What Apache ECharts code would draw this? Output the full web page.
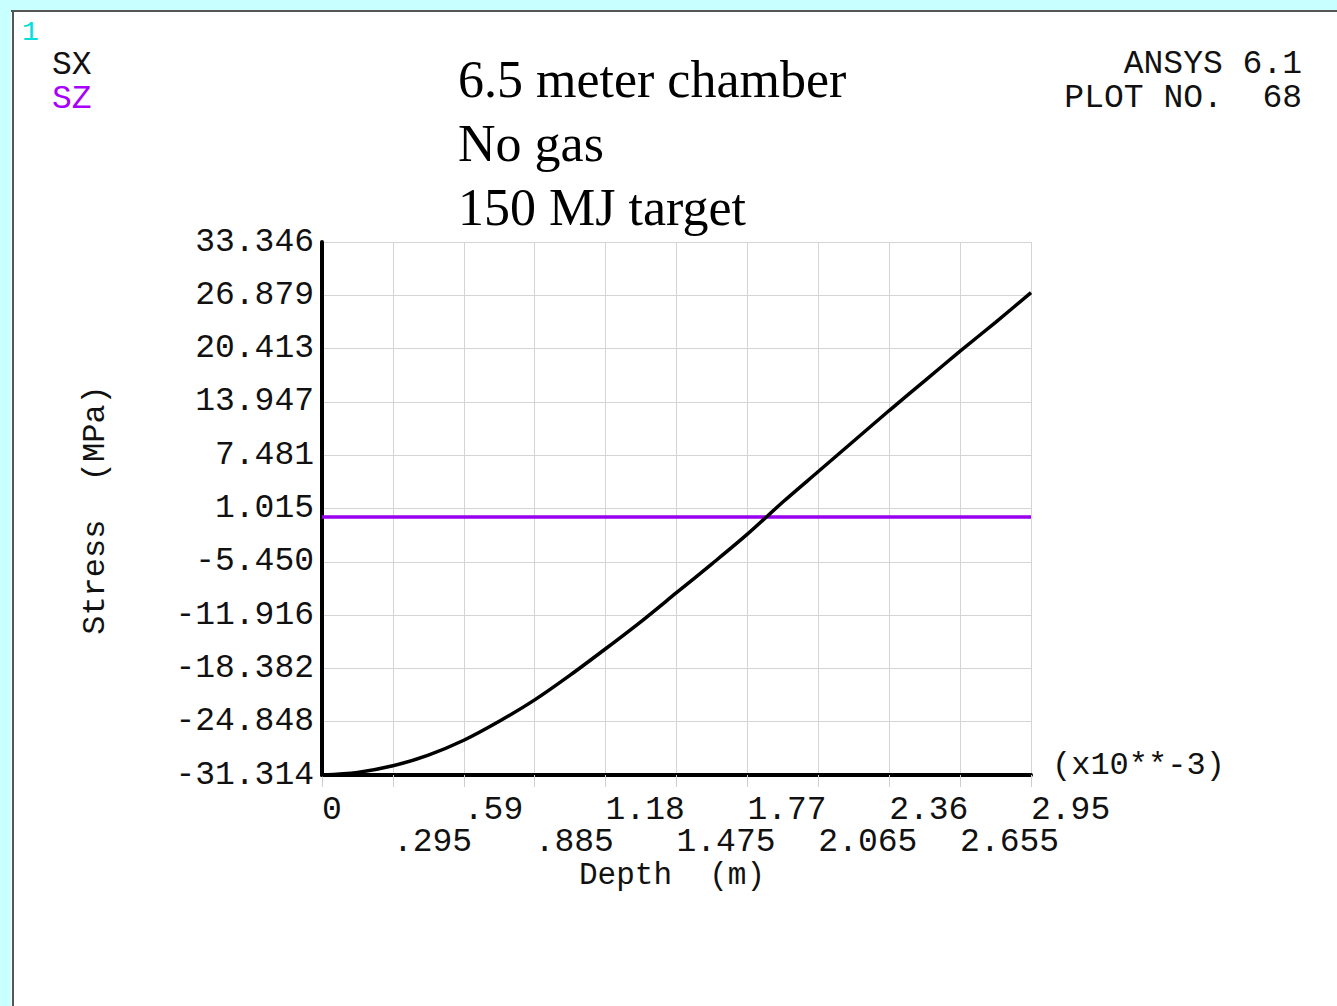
<!DOCTYPE html>
<html>
<head>
<meta charset="utf-8">
<script src="https://cdn.jsdelivr.net/npm/echarts@6/dist/echarts.min.js"></script>
<style>
  html, body { margin: 0; padding: 0; background: #ffffff; }
  #chart { width: 1337px; height: 1006px; }
</style>
</head>
<body>
<div id="chart"></div>
<script>
// Depth values (x10**-3 m) and stress results (MPa)
const depth = [0, 0.1475, 0.295, 0.4425, 0.59, 0.7375, 0.885, 1.0325, 1.18, 1.3275, 1.475,
               1.6225, 1.77, 1.9175, 2.065, 2.2125, 2.36, 2.5075, 2.655, 2.8025, 2.95];
const sx = [-31.31, -31.0, -30.2, -28.9, -27.1, -24.8, -22.2, -19.2, -16.0, -12.7, -9.2,
            -5.7, -2.1, 1.8, 5.5, 9.2, 12.9, 16.5, 20.1, 23.6, 27.2];
const sz = [0, 0, 0, 0, 0, 0, 0, 0, 0, 0, 0, 0, 0, 0, 0, 0, 0, 0, 0, 0, 0];

const xTickLabels = ['0', '.295', '.59', '.885', '1.18', '1.475', '1.77', '2.065', '2.36', '2.655', '2.95'];
const yTickLabels = ['-31.314', '-24.848', '-18.382', '-11.916', '-5.450', '1.015',
                     '7.481', '13.947', '20.413', '26.879', '33.346'];
const titleLines = ['6.5 meter chamber', 'No gas', '150 MJ target'];

const X_MIN = 0, X_MAX = 2.95, X_STEP = 0.295;
const Y_MIN = -31.314, Y_MAX = 33.346, Y_STEP = 6.466;

const MONO = '"Liberation Mono", "DejaVu Sans Mono", monospace';
const SERIF = '"Liberation Serif", "DejaVu Serif", serif';

function xLabel(v, parity) {
  const i = Math.round((v - X_MIN) / X_STEP);
  return (i % 2 === parity) ? (xTickLabels[i] || '') : '';
}

const chart = echarts.init(document.getElementById('chart'), null, { renderer: 'svg' });

const baseX = {
  type: 'value', min: X_MIN, max: X_MAX, interval: X_STEP, position: 'bottom'
};

chart.setOption({
  animation: false,
  backgroundColor: '#ffffff',
  grid: { left: 322, top: 242, right: 306, bottom: 231, containLabel: false },
  xAxis: [
    Object.assign({}, baseX, {
      axisLine: { show: true, onZero: false, lineStyle: { color: '#000', width: 4 } },
      axisTick: { show: true, length: 12, lineStyle: { color: '#cfcfcf', width: 1 } },
      splitLine: { show: true, lineStyle: { color: '#d4d4d4', width: 1 } },
      axisLabel: {
        margin: 19, align: 'left', color: '#111', fontFamily: MONO, fontSize: 33,
        showMinLabel: true, showMaxLabel: true,
        formatter: v => xLabel(v, 0)
      }
    }),
    Object.assign({}, baseX, {
      axisLine: { show: false },
      axisTick: { show: false },
      splitLine: { show: false },
      axisLabel: {
        margin: 51, align: 'left', color: '#111', fontFamily: MONO, fontSize: 33,
        formatter: v => xLabel(v, 1)
      }
    })
  ],
  yAxis: {
    type: 'value', min: Y_MIN, max: Y_MAX, interval: Y_STEP,
    axisLine: { show: true, onZero: false, lineStyle: { color: '#000', width: 4 } },
    axisTick: { show: false },
    splitLine: { show: true, lineStyle: { color: '#d4d4d4', width: 1 } },
    axisLabel: {
      margin: 8, color: '#111', fontFamily: MONO, fontSize: 33,
      showMinLabel: true, showMaxLabel: true,
      formatter: v => yTickLabels[Math.round((v - Y_MIN) / Y_STEP)] || ''
    }
  },
  series: [
    {
      name: 'SZ', type: 'line', xAxisIndex: 0, showSymbol: false,
      data: depth.map((d, i) => [d, sz[i]]),
      lineStyle: { color: '#9a00f0', width: 3.5 }
    },
    {
      name: 'SX', type: 'line', xAxisIndex: 0, showSymbol: false, smooth: 0.3,
      data: depth.map((d, i) => [d, sx[i]]),
      lineStyle: { color: '#000000', width: 3.5 }
    }
  ],
  graphic: [
    // frame
    { type: 'rect', shape: { x: 0, y: 0, width: 1337, height: 10 }, style: { fill: '#c8ffff' }, silent: true },
    { type: 'rect', shape: { x: 0, y: 0, width: 11, height: 1006 }, style: { fill: '#c8ffff' }, silent: true },
    { type: 'line', shape: { x1: 11, y1: 11, x2: 1337, y2: 11 }, style: { stroke: '#555', lineWidth: 2 }, silent: true },
    { type: 'line', shape: { x1: 13, y1: 11, x2: 13, y2: 1006 }, style: { stroke: '#555', lineWidth: 2 }, silent: true },
    // window number
    { type: 'text', left: 22, top: 18, style: { text: '1', fill: '#00dede', font: '28px ' + MONO } },
    // legend-like labels
    { type: 'text', left: 52, top: 49, style: { text: 'SX', fill: '#111', font: '33px ' + MONO } },
    { type: 'text', left: 52, top: 83, style: { text: 'SZ', fill: '#a800ff', font: '33px ' + MONO } },
    // program info
    { type: 'text', right: 35, top: 48, style: { text: 'ANSYS 6.1', fill: '#111', font: '33px ' + MONO, textAlign: 'right' } },
    { type: 'text', right: 35, top: 82, style: { text: 'PLOT NO.  68', fill: '#111', font: '33px ' + MONO, textAlign: 'right' } },
    // title block
    { type: 'text', left: 458, top: 53, style: { text: titleLines[0], fill: '#000', font: '52px ' + SERIF } },
    { type: 'text', left: 458, top: 117, style: { text: titleLines[1], fill: '#000', font: '52px ' + SERIF } },
    { type: 'text', left: 458, top: 181, style: { text: titleLines[2], fill: '#000', font: '52px ' + SERIF } },
    // axis titles
    { type: 'text', x: 95, y: 510, rotation: Math.PI / 2,
      style: { text: 'Stress  (MPa)', fill: '#111', font: '32px ' + MONO, textAlign: 'center', textVerticalAlign: 'middle' } },
    { type: 'text', x: 672, y: 875,
      style: { text: 'Depth  (m)', fill: '#111', font: '31px ' + MONO, textAlign: 'center', textVerticalAlign: 'middle' } },
    { type: 'text', x: 1052, y: 765,
      style: { text: '(x10**-3)', fill: '#111', font: '32px ' + MONO, textAlign: 'left', textVerticalAlign: 'middle' } }
  ]
});
</script>
</body>
</html>
